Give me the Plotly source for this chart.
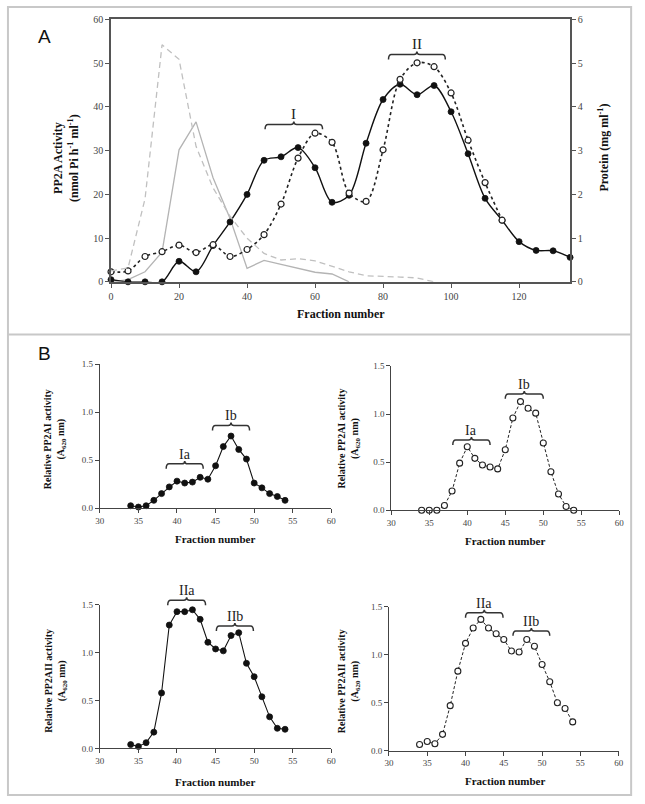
import plotly.graph_objects as go

W, H = 645, 804

# ---------------- Panel A data ----------------
a_fractions = [0, 5, 10, 15, 20, 25, 30, 35, 40, 45, 50, 55, 60, 65, 70, 75, 80,
               85, 90, 95, 100, 105, 110, 115, 120, 125, 130, 135]
a_filled = [0.5, 0, 0, 0, 4.7, 2.3, 8.3, 13.7, 20.0, 27.8, 28.6, 30.7, 26.1, 18.2,
            19.8, 31.7, 41.7, 45.2, 42.8, 44.9, 38.9, 29.3, 19.1, 14.1, 9.2, 7.2, 7.1, 5.6]
a_open_fr = [0, 5, 10, 15, 20, 25, 30, 35, 40, 45, 50, 55, 60, 65, 70, 75, 80,
             85, 90, 95, 100, 105, 110, 115]
a_open = [2.3, 2.5, 5.8, 6.9, 8.4, 6.7, 8.5, 5.8, 7.4, 10.8, 17.8, 28.3, 34.0, 31.9,
          20.3, 18.4, 30.2, 46.3, 50.1, 49.2, 43.2, 32.4, 22.7, 14.1]
a_gray_fr = [0, 5, 10, 15, 20, 25, 30, 35, 40, 45, 50, 55, 60, 65, 70]
a_gray = [0, 0.5, 2.3, 6.8, 30.2, 36.6, 23.8, 14.5, 3.1, 4.9, 4.0, 3.1, 2.2, 1.8, 0]
a_protein_fr = [0, 5, 10, 15, 20, 25, 30, 35, 40, 45, 50, 55, 60, 65, 70, 75, 80, 85, 90, 95]
a_protein = [0.25, 0.32, 1.9, 5.42, 5.09, 3.1, 2.15, 1.5, 1.0, 0.65, 0.5, 0.53, 0.48,
             0.36, 0.23, 0.14, 0.13, 0.11, 0.09, 0.0]
a_xticks = [0, 20, 40, 60, 80, 100, 120]

# ---------------- Panel B data ----------------
b_fractions = list(range(34, 55))
b_pp2a1_filled = [0.024, 0.01, 0.024, 0.08, 0.15, 0.22, 0.28, 0.26, 0.27, 0.32, 0.30,
                  0.44, 0.64, 0.75, 0.61, 0.51, 0.26, 0.21, 0.15, 0.12, 0.08]
b_pp2a1_open = [0, 0, 0, 0.05, 0.2, 0.49, 0.66, 0.54, 0.47, 0.45, 0.43, 0.63, 0.96,
                1.13, 1.06, 1.01, 0.70, 0.40, 0.17, 0.04, 0.0]
b_pp2a2_filled = [0.04, 0.02, 0.06, 0.17, 0.58, 1.29, 1.43, 1.43, 1.45, 1.35, 1.11,
                  1.04, 1.02, 1.18, 1.21, 0.89, 0.75, 0.54, 0.33, 0.21, 0.20]
b_pp2a2_open = [0.065, 0.096, 0.072, 0.17, 0.47, 0.83, 1.12, 1.28, 1.37, 1.28, 1.22,
                1.16, 1.04, 1.03, 1.16, 1.09, 0.90, 0.72, 0.50, 0.44, 0.30]
b_xticks = [30, 35, 40, 45, 50, 55, 60]
b_yticks = [0, 0.5, 1.0, 1.5]

SERIF = "Liberation Serif"
SANS = "Liberation Sans"


def px(x):
    return x / W


def py(y):
    return 1 - y / H


# subplot pixel geometry: x0, x1 (left/right), yb, yt (bottom/top), xrange, yrange
SUB = {
    "A":  dict(x0=107.7, x1=574.0, yb=280.7, yt=14.7, xr=(0, 135), yr=(0, 60)),
    "TL": dict(x0=96.3, x1=331.5, yb=510.0, yt=364.0, xr=(30, 60), yr=(0, 1.5)),
    "TR": dict(x0=392.3, x1=624.0, yb=512.3, yt=366.0, xr=(30, 60), yr=(0, 1.5)),
    "BL": dict(x0=96.3, x1=331.5, yb=753.7, yt=608.3, xr=(30, 60), yr=(0, 1.5)),
    "BR": dict(x0=390.0, x1=623.3, yb=756.0, yt=610.3, xr=(30, 60), yr=(0, 1.5)),
}


def to_pix(s, xv, yv):
    g = SUB[s]
    xp = g["x0"] + (xv - g["xr"][0]) / (g["xr"][1] - g["xr"][0]) * (g["x1"] - g["x0"])
    yp = g["yb"] + (yv - g["yr"][0]) / (g["yr"][1] - g["yr"][0]) * (g["yt"] - g["yb"])
    return xp, yp


fig = go.Figure()

# ---------- Panel A traces ----------
fig.add_trace(go.Scatter(x=a_gray_fr, y=a_gray, mode="lines", xaxis="x", yaxis="y",
                         line=dict(color="#b4b4b4", width=1.3), showlegend=False))
fig.add_trace(go.Scatter(x=a_protein_fr, y=a_protein, mode="lines", xaxis="x", yaxis="y2",
                         line=dict(color="#c0c0c0", width=1.3, dash="6px,4px"), showlegend=False))
fig.add_trace(go.Scatter(x=a_fractions, y=a_filled, mode="lines+markers", xaxis="x", yaxis="y",
                         line=dict(color="#111111", width=1.4, shape="spline", smoothing=0.9),
                         marker=dict(size=6, color="#111111", line=dict(color="#111111", width=0.8)),
                         cliponaxis=False, showlegend=False))
fig.add_trace(go.Scatter(x=a_open_fr, y=a_open, mode="lines+markers", xaxis="x", yaxis="y",
                         line=dict(color="#222222", width=1.6, dash="dot", shape="spline", smoothing=0.9),
                         marker=dict(size=6, color="white", line=dict(color="#222222", width=1.2)),
                         cliponaxis=False, showlegend=False))

# ---------- Panel B traces ----------
b_specs = [
    ("x2", "y3", b_pp2a1_filled, True),
    ("x3", "y4", b_pp2a1_open, False),
    ("x4", "y5", b_pp2a2_filled, True),
    ("x5", "y6", b_pp2a2_open, False),
]
for xa, ya, vals, filled in b_specs:
    if filled:
        line = dict(color="#111111", width=1.1)
        marker = dict(size=6, color="#111111", line=dict(color="#111111", width=0.8))
    else:
        line = dict(color="#222222", width=1.0, dash="3px,2px")
        marker = dict(size=6, color="white", line=dict(color="#222222", width=1.1))
    fig.add_trace(go.Scatter(x=b_fractions, y=vals, mode="lines+markers", xaxis=xa, yaxis=ya,
                             line=line, marker=marker, cliponaxis=False, showlegend=False))

tickfont_a = dict(family=SERIF, size=10, color="#444444")
tickfont_b = dict(family=SERIF, size=9, color="#444444")


def dom(s):
    g = SUB[s]
    return [px(g["x0"]), px(g["x1"])], [py(g["yb"]), py(g["yt"])]


ax_common = dict(showgrid=False, zeroline=False, showline=True, ticks="outside", fixedrange=True)

dxA, dyA = dom("A")
layout_axes = dict(
    xaxis=dict(domain=dxA, range=[0, 135], anchor="y", tickvals=a_xticks, mirror=True,
               linecolor="#555555", linewidth=1.5, ticklen=4, tickcolor="#555555",
               tickfont=tickfont_a, **ax_common),
    yaxis=dict(domain=dyA, range=[0, 60], anchor="x", dtick=10, mirror=True,
               linecolor="#555555", linewidth=1.5, ticklen=4, tickcolor="#555555",
               tickfont=tickfont_a, **ax_common),
    yaxis2=dict(overlaying="y", side="right", range=[0, 6], anchor="x", dtick=1,
                linecolor="#555555", linewidth=1.5, ticklen=4, tickcolor="#555555",
                tickfont=tickfont_a, **ax_common),
)
for i, s in enumerate(["TL", "TR", "BL", "BR"]):
    dx, dy = dom(s)
    xn, yn = i + 2, i + 3
    layout_axes[f"xaxis{xn}"] = dict(domain=dx, range=[30, 60], anchor=f"y{yn}", tickvals=b_xticks,
                                     linecolor="#444444", linewidth=1, ticklen=4, tickcolor="#444444",
                                     tickfont=tickfont_b, **ax_common)
    layout_axes[f"yaxis{yn}"] = dict(domain=dy, range=[0, 1.5], anchor=f"x{xn}", tickvals=b_yticks,
                                     tickformat=".1f", linecolor="#444444", linewidth=1, ticklen=4,
                                     tickcolor="#444444", tickfont=tickfont_b, **ax_common)

shapes = []
annotations = []

# outer frame and separator
shapes.append(dict(type="rect", xref="paper", yref="paper", x0=px(3), x1=px(636), y0=py(801), y1=py(2),
                   line=dict(color="#c8c8c8", width=2)))
shapes.append(dict(type="line", xref="paper", yref="paper", x0=px(3), x1=px(636), y0=py(334), y1=py(334),
                   line=dict(color="#c8c8c8", width=2)))

# panel letters
annotations.append(dict(text="A", x=px(31), y=py(19), xref="paper", yref="paper", showarrow=False,
                        font=dict(family=SANS, size=19, color="#111111")))
annotations.append(dict(text="B", x=px(31), y=py(353), xref="paper", yref="paper", showarrow=False,
                        font=dict(family=SANS, size=19, color="#111111")))


def bracket(s, xa, xb, yv, label, size=14):
    x0, y = to_pix(s, xa, yv)
    x1, _ = to_pix(s, xb, yv)
    xm = (x0 + x1) / 2
    h, r, b = 5, 3, 3
    pts = [("M", x0, y + h), ("Q", x0, y), ("", x0 + r, y), ("L", xm - r, y), ("Q", xm, y), ("", xm, y - b),
           ("Q", xm, y), ("", xm + r, y), ("L", x1 - r, y), ("Q", x1, y), ("", x1, y + h)]
    path = ""
    for cmd, a, c in pts:
        path += f"{cmd}{px(a):.5f},{py(c):.5f} "
    shapes.append(dict(type="path", xref="paper", yref="paper", path=path.strip(),
                       line=dict(color="#333333", width=1.5)))
    annotations.append(dict(text=label, x=px(xm), y=py(y - 1), xref="paper", yref="paper", showarrow=False,
                            xanchor="center", yanchor="bottom", borderpad=0,
                            font=dict(family=SERIF, size=size, color="#222222")))


bracket("A", 45.3, 62.2, 36.0, "I", 15)
bracket("A", 81.6, 98.3, 52.0, "II", 15)
bracket("TL", 38.6, 43.4, 0.46, "Ia")
bracket("TL", 44.6, 49.4, 0.86, "Ib")
bracket("TR", 38.1, 43.0, 0.73, "Ia")
bracket("TR", 45.0, 50.0, 1.21, "Ib")
bracket("BL", 38.8, 43.7, 1.55, "IIa")
bracket("BL", 45.1, 49.9, 1.28, "IIb")
bracket("BR", 40.0, 44.9, 1.44, "IIa")
bracket("BR", 46.2, 51.0, 1.25, "IIb")

title_font_a = dict(family=SERIF, size=12, color="#111111")
title_font_b = dict(family=SERIF, size=10, color="#111111")
xtitle_font_b = dict(family=SERIF, size=11, color="#111111")


def ann(text, x, y, font, angle=0):
    annotations.append(dict(text=text, x=px(x), y=py(y), xref="paper", yref="paper", showarrow=False,
                            textangle=angle, font=font, xanchor="center", yanchor="middle"))


# Panel A axis titles
ann("<b>PP2A Activity</b><br><b>(nmol Pi h<sup>-1</sup> ml<sup>-1</sup>)</b>", 62, 155, title_font_a, -90)
ann("<b>Protein (mg ml<sup>-1</sup>)</b>", 607, 145, title_font_a, -90)
ann("<b>Fraction number</b>", 341, 313, title_font_a)

# Panel B axis titles
ytl1 = "<b>Relative PP2AI activity</b><br><b>(A<sub>620</sub> nm)</b>"
ytl2 = "<b>Relative PP2AII activity</b><br><b>(A<sub>620</sub> nm)</b>"
ann(ytl1, 51, 440, title_font_b, -90)
ann(ytl1, 349, 440, title_font_b, -90)
ann(ytl2, 51, 685, title_font_b, -90)
ann(ytl2, 349, 686, title_font_b, -90)
ann("<b>Fraction number</b>", 213, 541, xtitle_font_b)
ann("<b>Fraction number</b>", 508, 543, xtitle_font_b)
ann("<b>Fraction number</b>", 213, 788, xtitle_font_b)
ann("<b>Fraction number</b>", 508, 787, xtitle_font_b)

fig.update_layout(
    width=W, height=H, margin=dict(l=0, r=0, t=0, b=0),
    paper_bgcolor="white", plot_bgcolor="white",
    shapes=shapes, annotations=annotations, showlegend=False,
    **layout_axes,
)

fig.write_html("out.html", config={"displayModeBar": False},
               post_script="document.body.style.margin='0px';document.body.style.padding='0px';")
